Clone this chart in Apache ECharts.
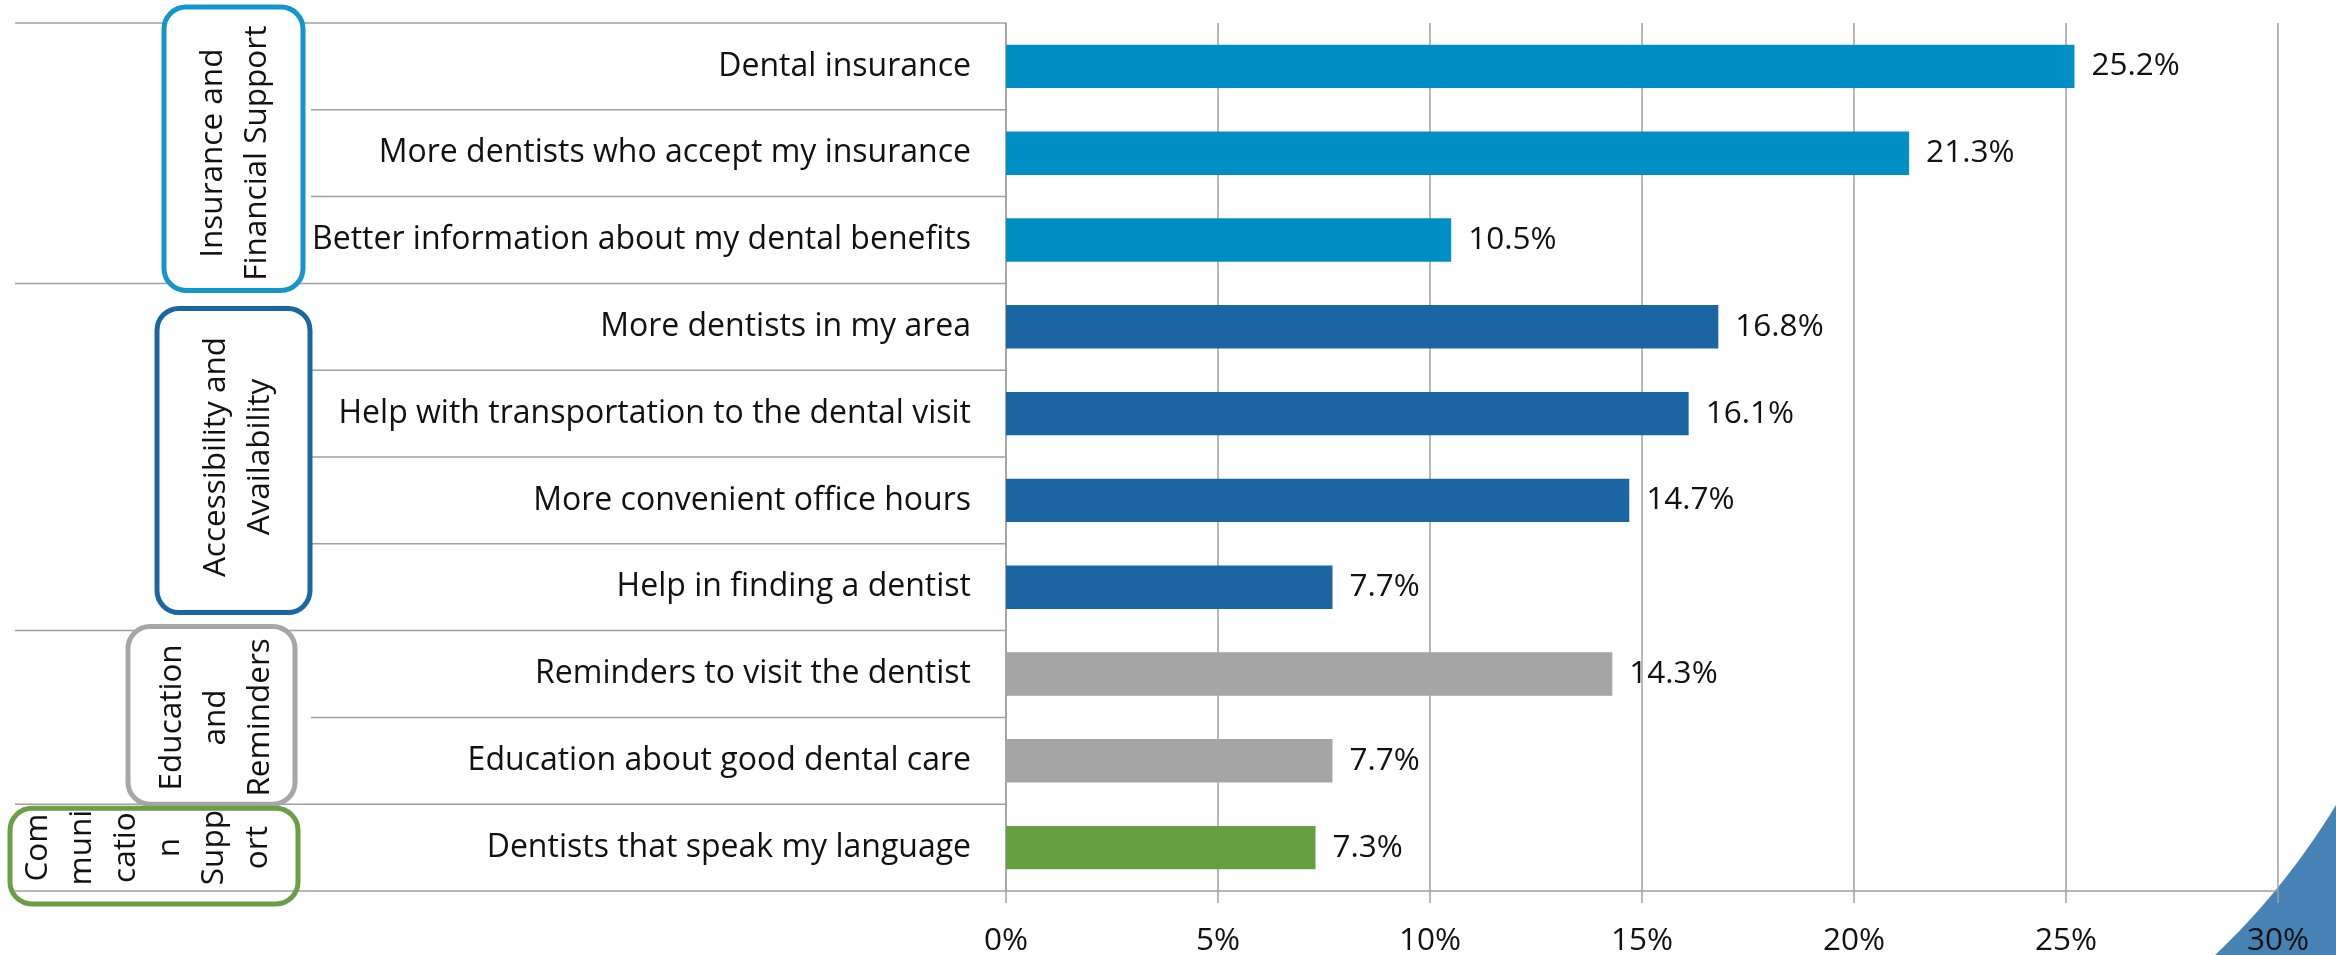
<!DOCTYPE html>
<html>
<head>
<meta charset="utf-8">
<script src="https://cdn.jsdelivr.net/npm/echarts@6/dist/echarts.min.js"></script>
<style>
html,body{margin:0;padding:0;background:#fff;}
#chart{width:2336px;height:955px;}
</style>
</head>
<body>
<div id="chart"></div>
<script>
// ---- data ----
const categories = [
  'Dental insurance',
  'More dentists who accept my insurance',
  'Better information about my dental benefits',
  'More dentists in my area',
  'Help with transportation to the dental visit',
  'More convenient office hours',
  'Help in finding a dentist',
  'Reminders to visit the dentist',
  'Education about good dental care',
  'Dentists that speak my language'
];
const values = [25.2, 21.3, 10.5, 16.8, 16.1, 14.7, 7.7, 14.3, 7.7, 7.3];
const groupNames = [
  'Insurance and\nFinancial Support',
  'Accessibility and\nAvailability',
  'Education\nand\nReminders',
  'Com\nmuni\ncatio\nn\nSupp\nort'
];
const groupSizes = [3, 4, 2, 1];
const xTickValues = [0, 5, 10, 15, 20, 25, 30];

// ---- styles ----
const groupColors = ['#008FC5', '#1B66A2', '#A5A5A5', '#669E40'];
const boxColors = ['#1496CA', '#1A66A0', '#A6A6A6', '#6A9F45'];
// box layout: x extents, offsets from band edges, text center x
const boxLayout = [
  {x0: 164, x1: 303, dTop: -16, dBot: 7, tx: 235, fill: '#fff'},
  {x0: 157, x1: 310, dTop: 25, dBot: -18, tx: 238, fill: '#fff'},
  {x0: 128, x1: 295, dTop: -4, dBot: 0, tx: 216, fill: '#fff'},
  {x0: 10, x1: 298, dTop: 4, dBot: 13, tx: 148, fill: null}
];
const FONT = 'Open Sans';
const FS = 31.5;
const FS_CAT = 32;
const GRID = '#A0A0A0';

const groupOf = [];
groupSizes.forEach((n, g) => { for (let k = 0; k < n; k++) groupOf.push(g); });

const chart = echarts.init(document.getElementById('chart'), null, {renderer: 'canvas'});

const option = {
  animation: false,
  backgroundColor: '#fff',
  grid: {left: 1006, right: 58, top: 23, bottom: 64, containLabel: false, outerBoundsMode: 'none'},
  xAxis: {
    type: 'value',
    min: xTickValues[0],
    max: xTickValues[xTickValues.length - 1],
    interval: xTickValues[1] - xTickValues[0],
    axisLine: {show: true, lineStyle: {color: GRID, width: 1.5}},
    axisTick: {show: true, length: 12, lineStyle: {color: GRID, width: 1.5}},
    splitLine: {show: true, lineStyle: {color: GRID, width: 1.5}},
    axisLabel: {formatter: '{value}%', fontFamily: FONT, fontSize: FS, color: '#111', margin: 34}
  },
  yAxis: {
    type: 'category',
    inverse: true,
    data: categories,
    axisLine: {show: true, lineStyle: {color: GRID, width: 1.5}},
    axisTick: {show: false},
    splitLine: {show: false},
    axisLabel: {fontFamily: FONT, fontSize: FS_CAT, color: '#111', margin: 35}
  },
  series: [{
    type: 'bar',
    barWidth: '50%',
    data: values.map((v, i) => ({value: v, itemStyle: {color: groupColors[groupOf[i]]}})),
    label: {
      show: true, position: 'right', distance: 17,
      fontFamily: FONT, fontSize: FS, color: '#111',
      formatter: p => p.value.toFixed(1) + '%'
    }
  }]
};
chart.setOption(option);

// ---- annotations computed from axes ----
const yc = i => chart.convertToPixel({yAxisIndex: 0}, i);
const band = Math.abs(yc(1) - yc(0));
const plotLeft = chart.convertToPixel({xAxisIndex: 0}, xTickValues[0]);
const bounds = [];
for (let k = 0; k <= categories.length; k++) bounds.push(yc(0) - band / 2 + k * band);

const groupStarts = [0];
groupSizes.forEach((n, g) => groupStarts.push(groupStarts[g] + n));

const elements = [];
bounds.forEach((y, k) => {
  const isGroupEdge = groupStarts.includes(k);
  elements.push({
    type: 'line', z: 1,
    shape: {x1: isGroupEdge ? 15 : 311, y1: y, x2: plotLeft, y2: y},
    style: {stroke: GRID, lineWidth: 1.5}
  });
});

groupNames.forEach((name, g) => {
  const L = boxLayout[g];
  const top = bounds[groupStarts[g]];
  const bot = bounds[groupStarts[g + 1]];
  const y0 = top + L.dTop, y1 = bot + L.dBot;
  elements.push({
    type: 'rect', z: 5,
    shape: {x: L.x0, y: y0, width: L.x1 - L.x0, height: y1 - y0, r: 22},
    style: {fill: L.fill || 'transparent', stroke: boxColors[g], lineWidth: 5}
  });
  elements.push({
    type: 'text', z: 6,
    x: L.tx, y: (top + bot) / 2,
    rotation: Math.PI / 2,
    style: {
      text: name, fontFamily: FONT, fontSize: FS, fill: '#111',
      align: 'center', verticalAlign: 'middle', lineHeight: 44
    }
  });
});

// decorative corner shape (quadratic curve sampled)
const P0 = [2336, 805], C = [2284, 890], P2 = [2215, 955];
const pts = [];
for (let i = 0; i <= 40; i++) {
  const t = i / 40, a = (1 - t) * (1 - t), b = 2 * (1 - t) * t, c = t * t;
  pts.push([a * P0[0] + b * C[0] + c * P2[0], a * P0[1] + b * C[1] + c * P2[1]]);
}
pts.push([2336, 955]);
elements.push({type: 'polygon', z: -10, shape: {points: pts}, style: {fill: '#4682B4'}});

chart.setOption({graphic: {elements: elements}});
</script>
</body>
</html>
